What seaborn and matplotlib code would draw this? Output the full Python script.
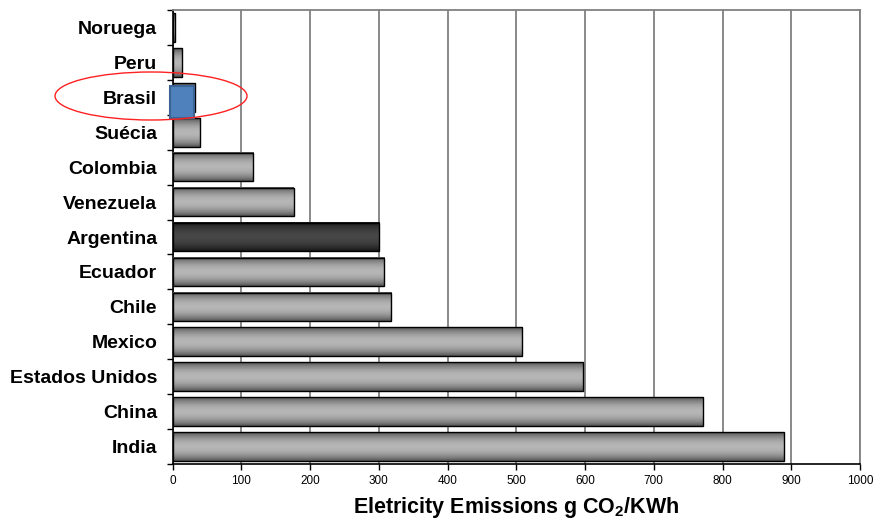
import numpy as np
import pandas as pd
import matplotlib
matplotlib.use("Agg")
import matplotlib.pyplot as plt
import matplotlib.transforms as mtransforms
from matplotlib.patches import Ellipse, Rectangle
import seaborn as sns

# Electricity emission intensity by country (g CO2 / kWh)
countries = ["Noruega", "Peru", "Brasil", "Suécia", "Colombia", "Venezuela",
             "Argentina", "Ecuador", "Chile", "Mexico", "Estados Unidos",
             "China", "India"]
emissions = [4, 14, 32, 40, 117, 176, 300, 307, 318, 509, 597, 771, 889]
x_ticks = [0, 100, 200, 300, 400, 500, 600, 700, 800, 900, 1000]

highlight_dark = "Argentina"
highlight_blue = "Brasil"

sns.set_style("white")
plt.rcParams["font.family"] = ["Liberation Sans", "DejaVu Sans"]
plt.rcParams["text.color"] = "black"
plt.rcParams["axes.labelcolor"] = "black"
plt.rcParams["xtick.color"] = "black"
plt.rcParams["ytick.color"] = "black"
plt.rcParams["mathtext.fontset"] = "custom"
plt.rcParams["mathtext.rm"] = "Liberation Sans"
plt.rcParams["mathtext.bf"] = "Liberation Sans:bold"

df = pd.DataFrame({"country": countries, "emissions": emissions})

fig = plt.figure(figsize=(8.76, 5.24), dpi=100)
ax = fig.add_axes([172.5 / 876, 1 - 464 / 524, 687.5 / 876, 454 / 524])

sns.barplot(data=df, x="emissions", y="country", orient="h", ax=ax,
            order=countries, width=0.82, color="#a0a0a0",
            edgecolor="black", linewidth=1.0, zorder=2)

ax.set_xlim(0, 1000)
ax.set_ylim(len(countries) - 0.5, -0.5)


def cylinder_gradient(dark, light, n=64):
    t = np.linspace(0, 1, n)
    w = np.sin(np.pi * t) ** 0.8
    d = np.array(matplotlib.colors.to_rgb(dark))
    l = np.array(matplotlib.colors.to_rgb(light))
    rgb = d[None, :] + (l - d)[None, :] * w[:, None]
    return rgb[:, None, :]


grad_gray = cylinder_gradient("#505050", "#b6b6b6")
grad_dark = cylinder_gradient("#161616", "#474747")

# size of one pixel in data units
px_x = 1000 / 687.5
px_y = len(countries) / 454

bars = list(ax.patches)
for name, bar in zip(countries, bars):
    x0, y0 = bar.get_x(), bar.get_y()
    w, h = bar.get_width(), bar.get_height()
    grad = grad_dark if name == highlight_dark else grad_gray
    bar.set_facecolor("none")
    bar.set_zorder(4)
    ax.imshow(grad, extent=(x0, x0 + w, y0 + h, y0), aspect="auto",
              interpolation="bilinear", zorder=3)
    if name == highlight_blue:
        # blue box laid over the bar, nudged left and down
        shift = mtransforms.offset_copy(ax.transData, fig=fig,
                                        x=-3, y=-3, units="dots")
        blue = Rectangle((x0, y0), w + 2 * px_x, h + 3 * px_y,
                         transform=shift, facecolor="#4f81bd",
                         edgecolor="#3b6494", linewidth=1.5, zorder=5,
                         clip_on=False)
        ax.add_patch(blue)

ax.set_xticks(x_ticks)
ax.set_xticklabels([str(v) for v in x_ticks], fontsize=8.5)

# category labels, tick marks between categories
ax.set_yticks(range(len(countries)))
ax.set_yticklabels(countries, fontsize=14, fontweight="bold")
ax.set_yticks(np.arange(-0.5, len(countries), 1), minor=True)
ax.tick_params(axis="y", which="major", length=0, pad=11)
ax.tick_params(axis="y", which="minor", length=4, width=1, color="black",
               direction="out", left=True)
ax.tick_params(axis="x", which="major", length=4, width=1, color="black",
               direction="out", bottom=True, pad=4)
ax.set_ylabel("")

ax.grid(axis="x", color="#808080", linewidth=1.3, zorder=1)
ax.grid(axis="y", visible=False)
ax.set_axisbelow(True)

for side in ["left", "bottom"]:
    ax.spines[side].set_color("black")
    ax.spines[side].set_linewidth(1.2)
for side in ["top", "right"]:
    ax.spines[side].set_color("#808080")
    ax.spines[side].set_linewidth(1.3)

ax.set_xlabel(r"Eletricity Emissions g CO$_\mathbf{2}$/KWh",
              fontsize=15.5, fontweight="bold")
ax.xaxis.set_label_coords(0.5, -0.068)

# red ring around the Brasil label
ring = Ellipse((151 / 876, 1 - 96 / 524), 192 / 876, 48 / 524,
               transform=fig.transFigure, facecolor="none",
               edgecolor="#ff2020", linewidth=1.0, zorder=10)
fig.patches.append(ring)

fig.savefig("out.png", dpi=100)
